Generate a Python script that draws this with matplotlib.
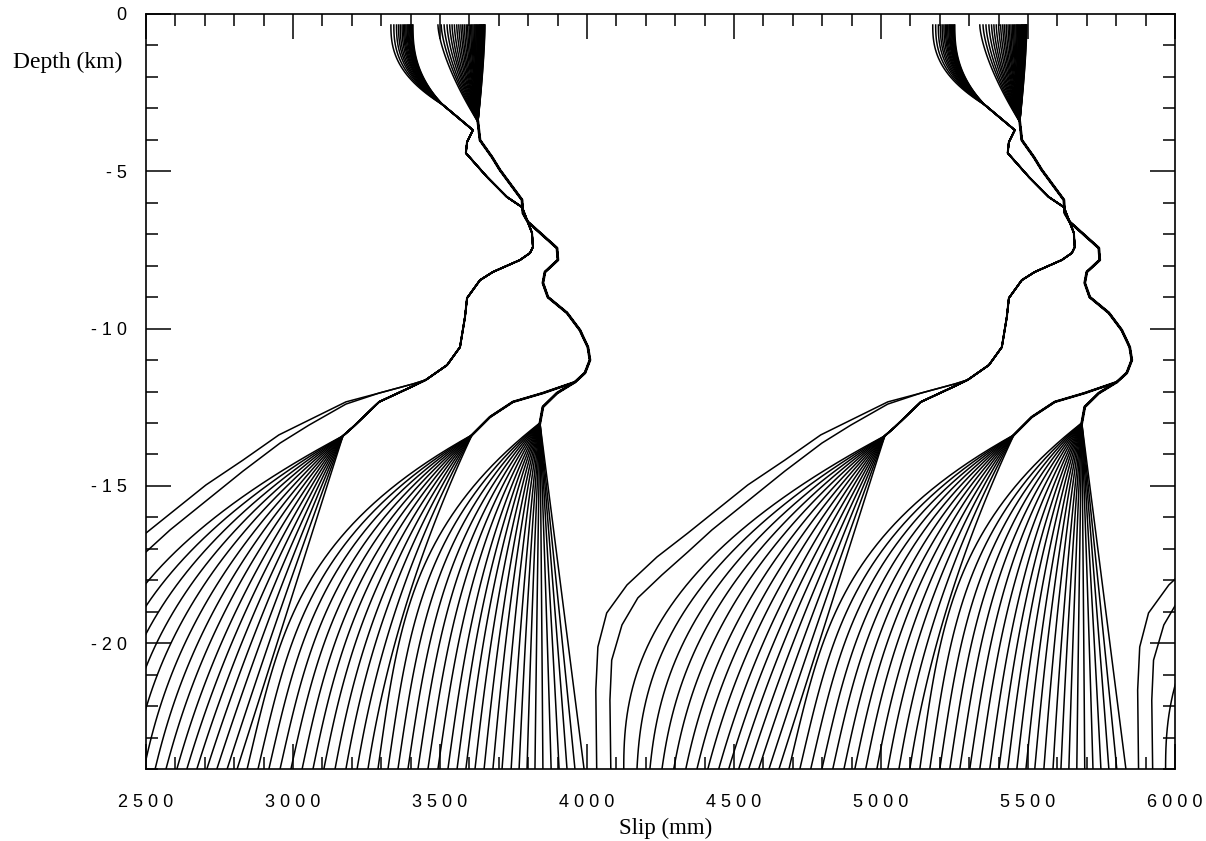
import numpy as np
import matplotlib.pyplot as plt
from matplotlib.ticker import MultipleLocator

# slip accumulated over one repeat of the event sequence
cycle_slip = 1843
cycles = [0, 1, 2]

top_depth = -0.35
bottom_depth = -24.0

# shallow afterslip bundles: slip at the top of each profile
bundle1_top = [3333, 3343, 3352, 3359, 3365, 3371, 3376, 3380, 3384, 3388,
               3391, 3394, 3397, 3400, 3403, 3406, 3408]
bundle2_top = [3493, 3504, 3514, 3524, 3533, 3541, 3549, 3557, 3564, 3571,
               3577, 3583, 3589, 3594, 3599, 3604, 3608, 3612, 3616, 3619,
               3622, 3625, 3628, 3631, 3634, 3636, 3638, 3640, 3642, 3644,
               3646, 3648, 3649, 3650, 3652, 3653]

# locked profile below bundle 1 (first point is where the bundle merges)
l1_slip = [3510, 3612, 3592, 3588, 3660, 3728, 3779, 3796, 3813, 3816,
           3806, 3772, 3680, 3636, 3592, 3585, 3568, 3524, 3452]
l1_depth = [-2.89, -3.69, -4.07, -4.42, -5.18, -5.82, -6.14, -6.55, -6.96, -7.41,
            -7.60, -7.82, -8.20, -8.46, -9.03, -9.63, -10.59, -11.16, -11.63]

# locked profile below bundle 2
l2_slip = [3629, 3636, 3677, 3704, 3779, 3782, 3799, 3898, 3901, 3857,
           3850, 3867, 3932, 3976, 4003, 4010, 3993, 3959]
l2_depth = [-3.43, -4.01, -4.55, -4.96, -5.91, -6.33, -6.61, -7.44, -7.82, -8.20,
            -8.55, -9.00, -9.50, -10.05, -10.59, -11.00, -11.41, -11.70]

# branches from the locked profiles down to each fan (last point = fan apex)
a_branch_slip = [3408, 3293, 3204, 3170]
a_branch_depth = [-11.83, -12.33, -13.13, -13.41]
b_branch_slip = [3850, 3748, 3670, 3609]
b_branch_depth = [-12.05, -12.33, -12.81, -13.38]
c_branch_slip = [3898, 3850, 3840]
c_branch_depth = [-12.05, -12.49, -13.00]

# early postseismic profiles reaching the bottom
u1_slip = [3408, 3293, 3180, 3054, 2952, 2830, 2704, 2500, 2395, 2293, 2224, 2194, 2187, 2190]
u1_depth = [-11.76, -12.05, -12.33, -12.91, -13.38, -14.18, -14.97, -16.50, -17.26,
            -18.15, -19.04, -20.12, -21.49, -24.0]
u2_slip = [3408, 3293, 3180, 3054, 2956, 2830, 2704, 2582, 2500, 2412, 2330, 2276,
           2241, 2235, 2238]
u2_depth = [-11.76, -12.05, -12.40, -13.07, -13.64, -14.53, -15.48, -16.40, -17.10,
            -17.83, -18.56, -19.42, -20.54, -21.81, -24.0]

# interseismic fans: slip at the bottom of each profile
fan_a_bottom = [2282, 2327, 2371, 2412, 2452, 2493, 2531, 2568, 2605, 2639,
                2673, 2707, 2741, 2776, 2810]
fan_b_bottom = [2844, 2881, 2918, 2956, 2993, 3031, 3068, 3105, 3143, 3180, 3218, 3255]
fan_c_bottom = [3289, 3323, 3357, 3391, 3425, 3459, 3493, 3527, 3558, 3588,
                3619, 3650, 3680, 3711, 3742, 3769, 3796, 3823, 3850, 3878,
                3905, 3932, 3959, 3990]


def top_part(s_top, s_join, z_join, r):
    z = np.linspace(top_depth, z_join, 30)
    u = (z - z_join) / (top_depth - z_join)
    return s_join + (s_top - s_join) * (1 - (1 - u) ** r), z


def fan_part(s_apex, z_apex, b, lean, p):
    # lean: how straight the profile runs up from the bottom; p: how hard it bends near the apex
    z = np.linspace(z_apex, bottom_depth, 50)
    t = (z - bottom_depth) / (z_apex - bottom_depth)
    return b + (s_apex - b) * (lean * t + (1 - lean) * t ** p), z


def ramp(a, b, i, n):
    return a + (b - a) * i / (n - 1)


def profiles():
    out = []
    tops = iter(bundle1_top)
    for us, ud in [(u1_slip, u1_depth), (u2_slip, u2_depth)]:
        ts, tz = top_part(next(tops), l1_slip[0], l1_depth[0], 2.5)
        out.append((np.r_[ts, l1_slip, us], np.r_[tz, l1_depth, ud]))
    n = len(fan_a_bottom)
    for i, b in enumerate(fan_a_bottom):
        ts, tz = top_part(next(tops), l1_slip[0], l1_depth[0], 2.5)
        fs, fz = fan_part(a_branch_slip[-1], a_branch_depth[-1], b,
                          ramp(0.0, 1.0, i, n), ramp(2.4, 2.0, i, n))
        out.append((np.r_[ts, l1_slip, a_branch_slip, fs],
                    np.r_[tz, l1_depth, a_branch_depth, fz]))
    tops = iter(bundle2_top)
    for bottoms, br_s, br_z, lean, bend in [
            (fan_b_bottom, b_branch_slip, b_branch_depth, (0.35, 0.5), (3.6, 2.0)),
            (fan_c_bottom, c_branch_slip, c_branch_depth, (0.3, 1.0), (3.5, 1.5))]:
        n = len(bottoms)
        for i, b in enumerate(bottoms):
            ts, tz = top_part(next(tops), l2_slip[0], l2_depth[0], 1.5)
            fs, fz = fan_part(br_s[-1], br_z[-1], b, ramp(*lean, i, n), ramp(*bend, i, n))
            out.append((np.r_[ts, l2_slip, br_s, fs], np.r_[tz, l2_depth, br_z, fz]))
    return out


fig = plt.figure(figsize=(12.06, 8.41), dpi=100)
ax = fig.add_axes([146 / 1206, 1 - 769 / 841, 1029 / 1206, 755 / 841])

lines = profiles()
for k in cycles:
    shift = k * cycle_slip
    for s, z in lines:
        ax.plot(s + shift, z, color='black', lw=1.1, solid_joinstyle='round')
    # shared locked stretches are traced by many profiles and print heavier
    ax.plot(np.r_[l1_slip, a_branch_slip] + shift, np.r_[l1_depth, a_branch_depth],
            color='black', lw=1.5, solid_joinstyle='round')
    ax.plot(np.r_[l2_slip, c_branch_slip] + shift, np.r_[l2_depth, c_branch_depth],
            color='black', lw=2.0, solid_joinstyle='round')
    ax.plot(np.r_[l2_slip[-1], b_branch_slip] + shift, np.r_[l2_depth[-1], b_branch_depth],
            color='black', lw=1.8, solid_joinstyle='round')

ax.set_xlim(2500, 6000)
ax.set_ylim(-24, 0)

xt = np.arange(2500, 6001, 500)
ax.set_xticks(xt)
ax.set_xticklabels([' '.join(str(v)) for v in xt])
yt = [0, -5, -10, -15, -20]
ax.set_yticks(yt)
ax.set_yticklabels(['0', '- 5', '- 1 0', '- 1 5', '- 2 0'])
ax.xaxis.set_minor_locator(MultipleLocator(100))
ax.yaxis.set_minor_locator(MultipleLocator(1))
ax.tick_params(which='both', direction='in', top=True, right=True, width=1.1, color='black')
ax.tick_params(which='major', length=18)
ax.tick_params(which='minor', length=8.5)
ax.tick_params(axis='x', pad=18)
ax.tick_params(axis='y', pad=14)
for lab in ax.get_xticklabels() + ax.get_yticklabels():
    lab.set_family('Liberation Sans')
    lab.set_fontsize(13)
for sp in ax.spines.values():
    sp.set_linewidth(1.2)

fig.text(13 / 1206, 1 - 62 / 841, 'Depth (km)', family='Liberation Serif', fontsize=17,
         ha='left', va='center')
fig.text(666 / 1206, 1 - 828 / 841, 'Slip (mm)', family='Liberation Serif', fontsize=16.5,
         ha='center', va='center')

fig.savefig('out.png', dpi=100)
